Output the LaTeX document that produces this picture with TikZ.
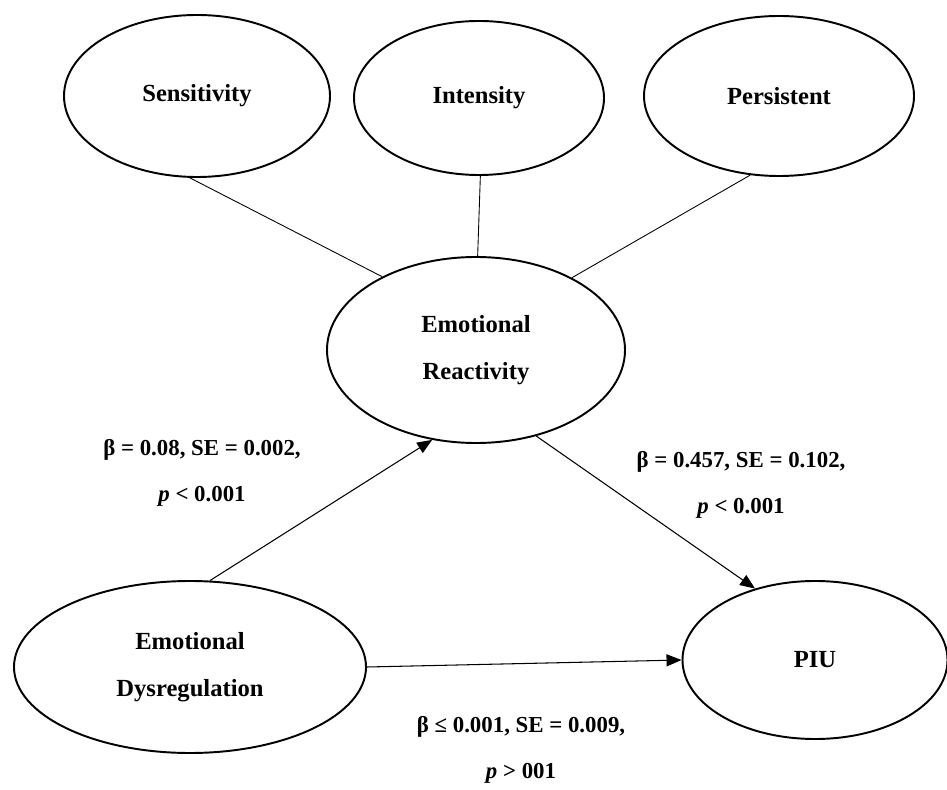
\documentclass[tikz,border=0pt]{standalone}
\usepackage{fontspec}
\setmainfont{Liberation Serif}
\usetikzlibrary{shapes.geometric, arrows.meta, positioning}
\tikzstyle{latent} = [ellipse, draw=black, line width=1.1pt, inner sep=0pt,
	align=center, font=\fontsize{14}{27}\selectfont\bfseries]
\tikzstyle{link} = [line width=0.5pt]
\tikzstyle{arrow} = [-{Triangle[length=3mm, width=2.4mm]}, line width=0.6pt]
\tikzstyle{coef} = [align=center, font=\fontsize{13}{26}\selectfont\bfseries]

\begin{document}
\begin{tikzpicture}
	\useasboundingbox (0,0) rectangle (18.94,-15.8);

	% indicators
	\node (sens) [latent, minimum width=5.32cm, minimum height=3.24cm] at (3.94,-1.92) {Sensitivity};
	\node (inten) [latent, minimum width=5.0cm, minimum height=3.08cm] at (9.58,-1.96) {Intensity};
	\node (pers) [latent, minimum width=5.4cm, minimum height=3.2cm] at (15.58,-1.92) {Persistent};

	\node (react) [latent, minimum width=5.96cm, minimum height=3.72cm] at (9.52,-7.0) {Emotional\\Reactivity};
	\node (dysreg) [latent, minimum width=7.04cm, minimum height=3.44cm] at (3.8,-13.34) {Emotional\\Dysregulation};
	\node (piu) [latent, minimum width=5.3cm, minimum height=3.16cm] at (16.3,-13.2) {PIU};

	\draw [link] (sens.-95) -- (react.142);
	\draw [link] (inten.-89) -- (react.89);
	\draw [link] (pers.-110) -- (react.37);

	% paths
	\draw [arrow] (dysreg.77) -- (react.-116);
	\draw [arrow] (react.-55) -- (piu.130);
	\draw [arrow] (dysreg.east) -- (piu.west);

	\node (c1) [coef] at (4.04,-9.46) {β = 0.08, SE = 0.002,\\\textit{p} < 0.001};
	\node (c2) [coef] at (14.82,-9.7) {β = 0.457, SE = 0.102,\\\textit{p} < 0.001};
	\node (c3) [coef] at (10.42,-15.0) {β ≤ 0.001, SE = 0.009,\\\textit{p} > 001};

\end{tikzpicture}
\end{document}
